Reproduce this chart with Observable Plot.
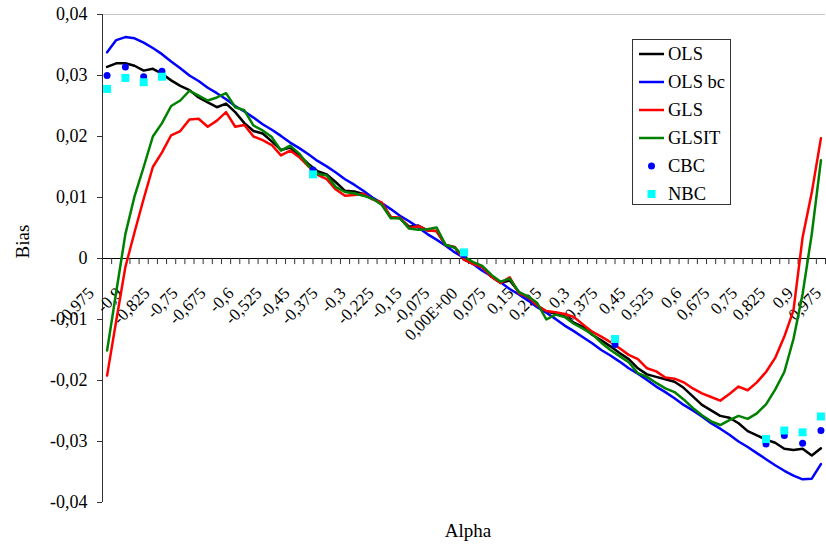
<!DOCTYPE html>
<html><head><meta charset="utf-8">
<script src="https://cdn.jsdelivr.net/npm/d3@7"></script>
<script src="https://cdn.jsdelivr.net/npm/@observablehq/plot@0.6"></script>
<style>
body{margin:0;background:#fff;}
#wrap{position:relative;width:826px;height:552px;font-family:"Liberation Serif","Times New Roman",serif;}
#legend{position:absolute;left:632px;top:39px;width:97px;height:164px;border:1px solid #333;background:#fff;}
#legend svg{display:block;}
</style></head><body><div id="wrap"></div>
<script>
// categories (Alpha)
const alpha = [-0.975,-0.95,-0.925,-0.9,-0.875,-0.85,-0.825,-0.8,-0.775,-0.75,-0.725,-0.7,-0.675,-0.65,-0.625,-0.6,-0.575,-0.55,-0.525,-0.5,-0.475,-0.45,-0.425,-0.4,-0.375,-0.35,-0.325,-0.3,-0.275,-0.25,-0.225,-0.2,-0.175,-0.15,-0.125,-0.1,-0.075,-0.05,-0.025,0,0.025,0.05,0.075,0.1,0.125,0.15,0.175,0.2,0.225,0.25,0.275,0.3,0.325,0.35,0.375,0.4,0.425,0.45,0.475,0.5,0.525,0.55,0.575,0.6,0.625,0.65,0.675,0.7,0.725,0.75,0.775,0.8,0.825,0.85,0.875,0.9,0.925,0.95,0.975];

const ols = [0.0314,0.0320,0.0320,0.0316,0.0308,0.0311,0.0303,0.0292,0.0283,0.0276,
0.0264,0.0256,0.0248,0.0254,0.0240,0.0222,0.0209,0.0205,0.0192,0.0178,
0.0182,0.0169,0.0155,0.0143,0.0138,0.0125,0.0111,0.0110,0.0106,0.0098,
0.0091,0.0068,0.0066,0.0052,0.0054,0.0046,0.0045,0.0022,0.0018,-0.0002,
-0.0009,-0.0014,-0.0030,-0.0040,-0.0036,-0.0055,-0.0064,-0.0077,-0.0087,-0.0090,
-0.0095,-0.0105,-0.0112,-0.0125,-0.0134,-0.0144,-0.0155,-0.0165,-0.0180,-0.0190,
-0.0194,-0.0198,-0.0202,-0.0212,-0.0226,-0.0240,-0.0249,-0.0258,-0.0261,-0.0270,
-0.0283,-0.0290,-0.0297,-0.0302,-0.0312,-0.0314,-0.0312,-0.0323,-0.0311];

const olsBc = [0.0338,0.0358,0.0363,0.0361,0.0354,0.0345,0.0335,0.0323,0.0312,0.0300,
0.0291,0.0280,0.0271,0.0261,0.0250,0.0241,0.0231,0.0220,0.0211,0.0201,
0.0190,0.0181,0.0171,0.0160,0.0151,0.0141,0.0130,0.0121,0.0111,0.0100,
0.0091,0.0081,0.0070,0.0061,0.0051,0.0040,0.0031,0.0021,0.0010,0.0001,
-0.0009,-0.0020,-0.0029,-0.0039,-0.0050,-0.0059,-0.0069,-0.0080,-0.0089,-0.0099,
-0.0110,-0.0119,-0.0129,-0.0139,-0.0150,-0.0159,-0.0169,-0.0180,-0.0189,-0.0199,
-0.0210,-0.0219,-0.0229,-0.0240,-0.0249,-0.0259,-0.0270,-0.0279,-0.0289,-0.0300,
-0.0309,-0.0319,-0.0329,-0.0339,-0.0348,-0.0356,-0.0362,-0.0361,-0.0337];

const gls = [-0.0192,-0.0102,-0.0014,0.0043,0.0098,0.0150,0.0174,0.0202,0.0209,0.0228,
0.0229,0.0216,0.0226,0.0240,0.0216,0.0219,0.0200,0.0194,0.0186,0.0169,
0.0177,0.0166,0.0151,0.0137,0.0130,0.0113,0.0103,0.0104,0.0106,0.0097,
0.0092,0.0068,0.0067,0.0050,0.0053,0.0046,0.0045,0.0022,0.0019,-0.0002,
-0.0009,-0.0014,-0.0030,-0.0040,-0.0031,-0.0057,-0.0063,-0.0077,-0.0086,-0.0088,
-0.0091,-0.0096,-0.0108,-0.0120,-0.0128,-0.0137,-0.0147,-0.0158,-0.0165,-0.0180,
-0.0185,-0.0195,-0.0197,-0.0203,-0.0213,-0.0221,-0.0227,-0.0233,-0.0222,-0.0210,
-0.0216,-0.0203,-0.0186,-0.0163,-0.0128,-0.0085,0.0035,0.0108,0.0197];

const glsit = [-0.0151,-0.0055,0.0040,0.0102,0.0150,0.0200,0.0222,0.0250,0.0259,0.0275,
0.0267,0.0259,0.0264,0.0271,0.0248,0.0243,0.0218,0.0210,0.0199,0.0177,
0.0185,0.0172,0.0152,0.0139,0.0136,0.0117,0.0109,0.0107,0.0103,0.0098,
0.0088,0.0066,0.0066,0.0049,0.0047,0.0048,0.0051,0.0022,0.0018,0.0003,
-0.0006,-0.0012,-0.0027,-0.0038,-0.0033,-0.0055,-0.0062,-0.0073,-0.0100,-0.0092,
-0.0096,-0.0107,-0.0115,-0.0124,-0.0138,-0.0150,-0.0160,-0.0170,-0.0188,-0.0194,
-0.0204,-0.0213,-0.0219,-0.0231,-0.0245,-0.0257,-0.0267,-0.0273,-0.0265,-0.0258,
-0.0263,-0.0254,-0.0239,-0.0215,-0.0186,-0.0132,-0.0058,0.0040,0.0161];

// point series
const pointAlpha = [-0.975,-0.925,-0.875,-0.825,-0.4125,0,0.4125,0.825,0.875,0.925,0.975];
const cbc = [0.0300,0.0314,0.0298,0.0307,0.0145,0.0006,-0.0141,-0.0304,-0.0290,-0.0303,-0.0282];
const nbc = [0.0278,0.0296,0.0289,0.0298,0.0138,0.0010,-0.0132,-0.0296,-0.0282,-0.0285,-0.0259];

// axis ticks
const yTicks = [-0.04,-0.03,-0.02,-0.01,0,0.01,0.02,0.03,0.04];
const xLabelAlpha = [-0.975,-0.9,-0.825,-0.75,-0.675,-0.6,-0.525,-0.45,-0.375,-0.3,-0.225,-0.15,-0.075,0,0.075,0.15,0.225,0.3,0.375,0.45,0.525,0.6,0.675,0.75,0.825,0.9,0.975];
const xLabelText = ["-0,975","-0,9","-0,825","-0,75","-0,675","-0,6","-0,525","-0,45","-0,375","-0,3","-0,225","-0,15","-0,075","0,00E+00","0,075","0,15","0,225","0,3","0,375","0,45","0,525","0,6","0,675","0,75","0,825","0,9","0,975"];

const seriesNames = ["OLS","OLS bc","GLS","GLSIT","CBC","NBC"];
const seriesColors = ["#000000","#0000ff","#ff0000","#008000","#0000ff","#00ffff"];

const serif = "Liberation Serif, Times New Roman, serif";
const half = 0.0125;
const xDomain = [alpha[0] - half, alpha[alpha.length-1] + half];
const tickBounds = alpha.map(a => a - half).concat([alpha[alpha.length-1] + half]);
const fmt = d => d === 0 ? "0" : d.toFixed(2).replace(".", ",");

// Excel spreads its rotated labels a little wider than the categories
const labelMarks = xLabelText.map((t, j) =>
  Plot.text([t], {x: [xLabelAlpha[j]], y: [0], text: d => d, rotate: -45, textAnchor: "end",
    dx: -16 + 0.52 * j, dy: 32, fontSize: 17, fontFamily: serif}));

const chart = Plot.plot({
  width: 826, height: 552,
  marginLeft: 102, marginRight: 1, marginTop: 14, marginBottom: 50,
  style: {fontFamily: serif, fontSize: "16px", background: "white", color: "black"},
  x: {domain: xDomain, axis: null},
  y: {domain: [-0.04, 0.04], axis: null},
  marks: [
    Plot.ruleY([0.04], {stroke: "#c4c4c4", strokeWidth: 1}),
    Plot.ruleY([0], {stroke: "#000", strokeWidth: 1}),
    Plot.ruleX(tickBounds, {y1: 0, y2: -0.001, stroke: "#333", strokeWidth: 1}),
    Plot.axisY({ticks: yTicks, tickFormat: fmt, tickSize: 5, tickPadding: 10, label: null, fontSize: 18, fontFamily: serif, stroke: "#333"}),
    Plot.ruleX([xDomain[0]], {stroke: "#333", strokeWidth: 1}),
    ...labelMarks,
    Plot.lineY(ols, {x: alpha, stroke: seriesColors[0], strokeWidth: 2.5}),
    Plot.lineY(olsBc, {x: alpha, stroke: seriesColors[1], strokeWidth: 2.5}),
    Plot.lineY(gls, {x: alpha, stroke: seriesColors[2], strokeWidth: 2.5}),
    Plot.lineY(glsit, {x: alpha, stroke: seriesColors[3], strokeWidth: 2.5}),
    Plot.dot(cbc, {x: pointAlpha, y: d => d, r: 3.5, fill: seriesColors[4], stroke: null}),
    Plot.dot(nbc, {x: pointAlpha, y: d => d, r: 4.5, symbol: "square", fill: seriesColors[5], stroke: null}),
    Plot.text(["Bias"], {frameAnchor: "left", dx: -80, rotate: -90, fontSize: 19, fontFamily: serif}),
    Plot.text(["Alpha"], {frameAnchor: "bottom", dy: 34, dx: 4, fontSize: 19, fontFamily: serif})
  ]
});
const wrap = document.getElementById("wrap");
wrap.append(chart);

// legend
const leg = document.createElement("div");
leg.id = "legend";
const rowH = 28, top0 = 14;
let s = `<svg width="97" height="164" xmlns="http://www.w3.org/2000/svg" style="font-family:${serif};font-size:18.5px">`;
seriesNames.forEach((n, i) => {
  const cy = top0 + i * rowH;
  if (i < 4) s += `<line x1="6" x2="31" y1="${cy}" y2="${cy}" stroke="${seriesColors[i]}" stroke-width="2.5"/>`;
  else if (i === 4) s += `<circle cx="18.5" cy="${cy}" r="3.5" fill="${seriesColors[i]}"/>`;
  else s += `<rect x="14.5" y="${cy-4}" width="8" height="8" fill="${seriesColors[i]}"/>`;
  s += `<text x="35" y="${cy}" dy="0.35em" fill="#000">${n}</text>`;
});
s += `</svg>`;
leg.innerHTML = s;
wrap.append(leg);
</script>
</body></html>
